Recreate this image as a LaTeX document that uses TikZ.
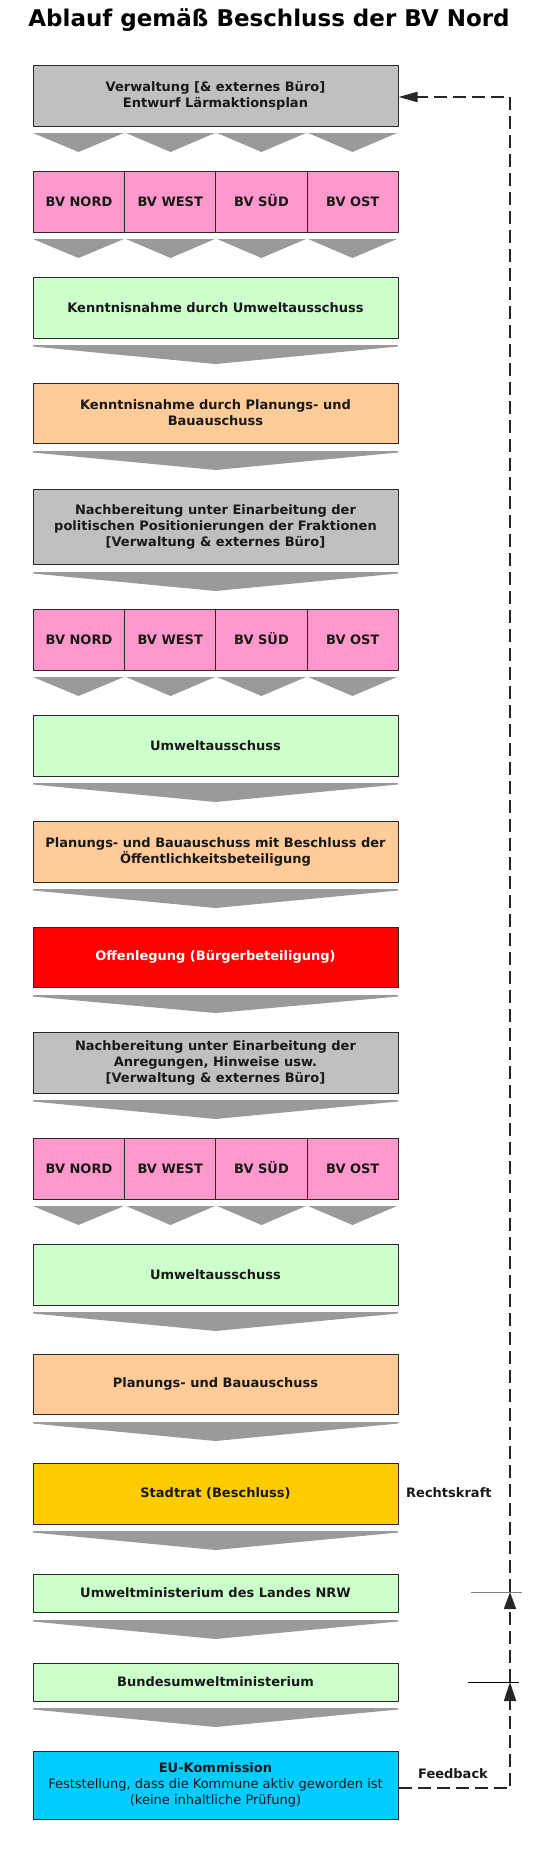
\documentclass[tikz,border=0pt]{standalone}
\usepackage{fontspec}
\setmainfont{DejaVu Sans}
\usetikzlibrary{arrows.meta,calc}
\definecolor{boxgray}{HTML}{C0C0C0}
\definecolor{boxpink}{HTML}{FF99CC}
\definecolor{boxgreen}{HTML}{CCFFCC}
\definecolor{boxorange}{HTML}{FFCC99}
\definecolor{boxred}{HTML}{FF0000}
\definecolor{boxyellow}{HTML}{FFCC00}
\definecolor{boxcyan}{HTML}{00CCFF}
\definecolor{chevgray}{HTML}{9A9A9A}
\definecolor{edge}{HTML}{2A2A2A}
\newcommand\bigchev[2]{\fill[chevgray] (33,#1) -- (398,#1) -- (398,{#1+1.5}) -- (215.5,#2) -- (33,{#1+1.5}) -- cycle;}
\newcommand\smallchevs[2]{\foreach \a/\b in {33/124,126/215,217/306,308/397}{\fill[chevgray] (\a,#1) -- (\b,#1) -- ({(\a+\b)/2},#2) -- cycle;}}
\begin{document}
\begin{tikzpicture}[x=1pt,y=-1pt,
  box/.style={draw=edge, line width=1pt, minimum width=365pt, minimum height=61pt, inner sep=0pt, align=center, font=\fontsize{13}{16}\selectfont\bfseries, text=black!90},
  cell/.style={box, fill=boxpink, minimum width=91.25pt, text height=9.5pt, text depth=0pt},
  lbl/.style={font=\fontsize{13}{16}\selectfont\bfseries, text=black!90, inner sep=0pt},
  fb/.style={draw=black!85, line width=1.8pt, dash pattern=on 13pt off 6pt},
  tick/.style={line width=1pt}
]
\useasboundingbox (0,0) rectangle (542,1861);
\node[font=\fontsize{23}{28}\selectfont\bfseries, anchor=base, inner sep=0pt] (title) at (269,26) {Ablauf gemäß Beschluss der BV Nord};

\node[box, fill=boxgray] (b1) at (215.5,95.5) {Verwaltung [\& externes Büro]\\Entwurf Lärmaktionsplan};
\smallchevs{133}{152}
\node[cell] (n1) at (79,201.5) {BV NORD};
\node[cell] (w1) at (170.25,201.5) {BV WEST};
\node[cell] (s1) at (261.5,201.5) {BV SÜD};
\node[cell] (o1) at (352.75,201.5) {BV OST};
\smallchevs{239}{258}
\node[box, fill=boxgreen] (b3) at (215.5,307.5) {Kenntnisnahme durch Umweltausschuss};
\bigchev{345}{364}
\node[box, fill=boxorange, minimum height=60pt] (b4) at (215.5,413) {Kenntnisnahme durch Planungs- und\\Bauauschuss};
\bigchev{451}{470}
\node[box, fill=boxgray, minimum height=75pt] (b5) at (215.5,526.5) {Nachbereitung unter Einarbeitung der\\politischen Positionierungen der Fraktionen\\[0pt][Verwaltung \& externes Büro]};
\bigchev{572}{591}
\node[cell] (n2) at (79,640) {BV NORD};
\node[cell] (w2) at (170.25,640) {BV WEST};
\node[cell] (s2) at (261.5,640) {BV SÜD};
\node[cell] (o2) at (352.75,640) {BV OST};
\smallchevs{677}{696}
\node[box, fill=boxgreen] (b7) at (215.5,745.5) {Umweltausschuss};
\bigchev{783}{802}
\node[box, fill=boxorange] (b8) at (215.5,851.5) {Planungs- und Bauauschuss mit Beschluss der\\Öffentlichkeitsbeteiligung};
\bigchev{889}{908}
\node[box, fill=boxred, minimum height=60pt, text=white] (b9) at (215.5,957) {Offenlegung (Bürgerbeteiligung)};
\bigchev{995}{1013}
\node[box, fill=boxgray] (b10) at (215.5,1062.5) {Nachbereitung unter Einarbeitung der\\Anregungen, Hinweise usw.\\[0pt][Verwaltung \& externes Büro]};
\bigchev{1100}{1119}
\node[cell] (n3) at (79,1168.5) {BV NORD};
\node[cell] (w3) at (170.25,1168.5) {BV WEST};
\node[cell] (s3) at (261.5,1168.5) {BV SÜD};
\node[cell] (o3) at (352.75,1168.5) {BV OST};
\smallchevs{1206}{1225}
\node[box, fill=boxgreen] (b12) at (215.5,1274.5) {Umweltausschuss};
\bigchev{1312}{1331}
\node[box, fill=boxorange, minimum height=60pt] (b13) at (215.5,1384) {Planungs- und Bauauschuss};
\bigchev{1422}{1441}
\node[box, fill=boxyellow] (b14) at (215.5,1493.5) {Stadtrat (Beschluss)};
\bigchev{1531}{1550}
\node[box, fill=boxgreen, minimum height=38pt] (b15) at (215.5,1593) {Umweltministerium des Landes NRW};
\bigchev{1620}{1639}
\node[box, fill=boxgreen, minimum height=38pt] (b16) at (215.5,1682) {Bundesumweltministerium};
\bigchev{1708}{1727}
\node[box, fill=boxcyan, minimum height=68pt, font=\fontsize{13}{16}\selectfont] (b17) at (215.5,1785) {\textbf{EU-Kommission}\\Feststellung, dass die Kommune aktiv geworden ist\\(keine inhaltliche Prüfung)};

\node[lbl, anchor=west] (rk) at (406,1493) {Rechtskraft};
\node[lbl] (fbl) at (453,1774) {Feedback};

\coordinate (c1) at (510,1788);
\coordinate (t2) at (510,1682);
\coordinate (t1) at (510,1592);
\coordinate (c0) at (510,97);
\draw[fb, -{Triangle[length=19pt,width=12pt]}] ([yshift=-3pt]b17.east) -- (c1) -- (t2);
\draw[fb, -{Triangle[length=17pt,width=12pt]}] (t2) -- (t1);
\draw[fb, -{Triangle[length=19pt,width=10pt]}] (t1) -- (c0) -- ([yshift=-1.5pt]b1.east);
\draw[tick, draw=gray] ([xshift=-39pt]t1) -- ([xshift=12pt]t1);
\draw[tick, draw=black] ([xshift=-42pt]t2) -- ([xshift=9pt]t2);
\end{tikzpicture}
\end{document}
